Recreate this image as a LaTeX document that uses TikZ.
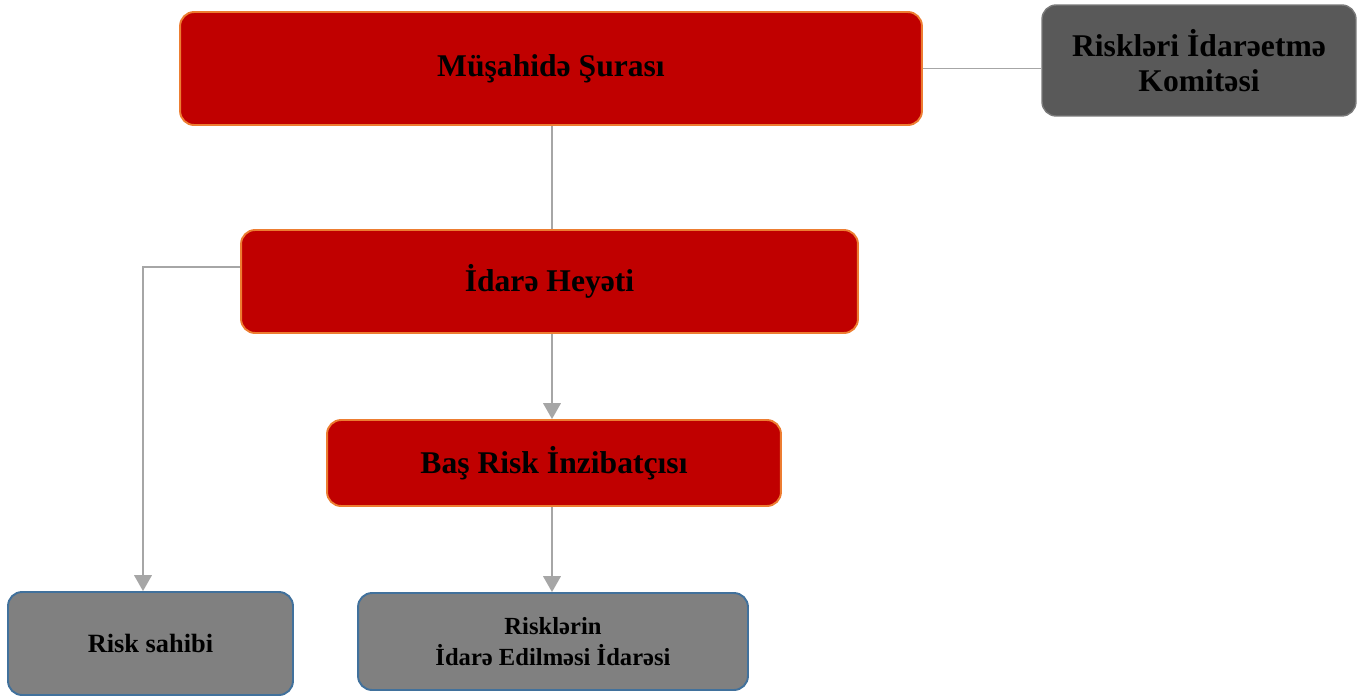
\documentclass[tikz,border=0pt]{standalone}
\usepackage{fontspec}
\setmainfont{Liberation Serif}
\usetikzlibrary{arrows.meta}

\definecolor{boxred}{HTML}{C00000}
\definecolor{boxorange}{HTML}{ED7D31}
\definecolor{boxdark}{HTML}{595959}
\definecolor{boxgray}{HTML}{808080}
\definecolor{boxblue}{HTML}{41719C}
\definecolor{linegray}{HTML}{A6A6A6}

\begin{document}
\begin{tikzpicture}[
		x=0.02cm, y=-0.02cm,
		every node/.style={rectangle, rounded corners=8pt, align=center, font=\bfseries},
		redbox/.style={fill=boxred, draw=boxorange, line width=1.1pt, font=\fontsize{18}{22}\selectfont\bfseries},
		darkbox/.style={fill=boxdark, draw=boxdark!80!white, line width=0.8pt, font=\fontsize{18}{20}\selectfont\bfseries},
		graybox/.style={fill=boxgray, draw=boxblue, line width=1.1pt},
		conn/.style={draw=linegray, line width=0.9pt},
		arr/.style={conn, -{Triangle[width=10pt,length=9pt]}}
	]
  \useasboundingbox (0,0) rectangle (1366,698);
  \node (mus) [redbox, minimum width=14.84cm, minimum height=2.26cm] at (551, 68.5) {Müşahidə Şurası};
  \node (kom) [darkbox, minimum width=6.28cm, minimum height=2.22cm] at (1199, 60.5) {Riskləri İdarəetmə\\Komitəsi};
  \node (idh) [redbox, minimum width=12.34cm, minimum height=2.06cm] at (549.5, 281.5) {İdarə Heyəti};
  \node (bas) [redbox, minimum width=9.08cm, minimum height=1.72cm] at (554, 463) {Baş Risk İnzibatçısı};
  \node (rs) [graybox, minimum width=5.7cm, minimum height=2.06cm, font=\fontsize{15}{18}\selectfont\bfseries] at (150.5, 643.5) {Risk sahibi};
  \node (rid) [graybox, minimum width=7.8cm, minimum height=1.94cm, font=\fontsize{14}{18}\selectfont\bfseries] at (553, 641.5) {Risklərin\\İdarə Edilməsi İdarəsi};
  \coordinate (mid) at (552, 0);
  \coordinate (lft) at (143, 267);
  \draw [conn] (mus.east) -- (mus.east -| kom.west);
  \draw [conn] (mus.south -| mid) -- (idh.north -| mid);
  \draw [arr] (idh.west |- lft) -| (rs.north -| lft);
  \draw [arr] (idh.south -| mid) -- (bas.north -| mid);
  \draw [arr] (bas.south -| mid) -- (rid.north -| mid);
\end{tikzpicture}
\end{document}
